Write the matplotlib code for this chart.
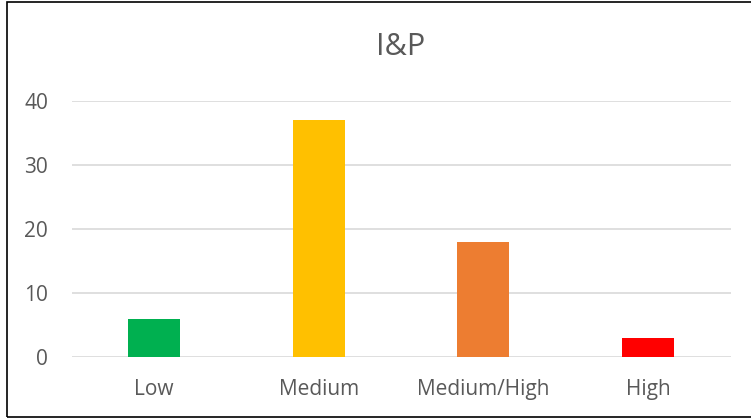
import matplotlib
matplotlib.use('Agg')
import matplotlib.pyplot as plt
from matplotlib.patches import Rectangle

categories = ['Low', 'Medium', 'Medium/High', 'High']
values = [6, 37, 18, 3]
colors = ['#00B050', '#FFC000', '#ED7D31', '#FF0000']
yticks = [0, 10, 20, 30, 40]

plt.rcParams['font.family'] = ['Open Sans', 'DejaVu Sans']

fig = plt.figure(figsize=(7.51, 4.19), dpi=100)
ax = fig.add_axes([71.5/751, 1-357/419, 659/751, 256/419])

x = range(len(categories))
ax.bar(x, values, width=0.315, color=colors, zorder=3)
ax.set_xlim(-0.5, len(categories) - 0.5)
ax.set_ylim(0, 40)
ax.set_yticks(yticks)
ax.set_xticks(list(x))
ax.set_xticklabels(categories)
ax.grid(axis='y', color='#D9D9D9', lw=1.2, zorder=0)
ax.tick_params(length=0, labelsize=15, colors='#595959', pad=16)
ax.tick_params(axis='y', pad=17)
for s in ax.spines.values():
    s.set_visible(False)
ax.set_title('I&P', fontsize=22, color='#595959', pad=33)

# chart border
fig.patches.append(Rectangle((7/751, 1-417/419), 760/751, 415/419, transform=fig.transFigure,
                             fill=False, edgecolor='#000000', lw=1.2))

fig.savefig('out.png', dpi=100)
